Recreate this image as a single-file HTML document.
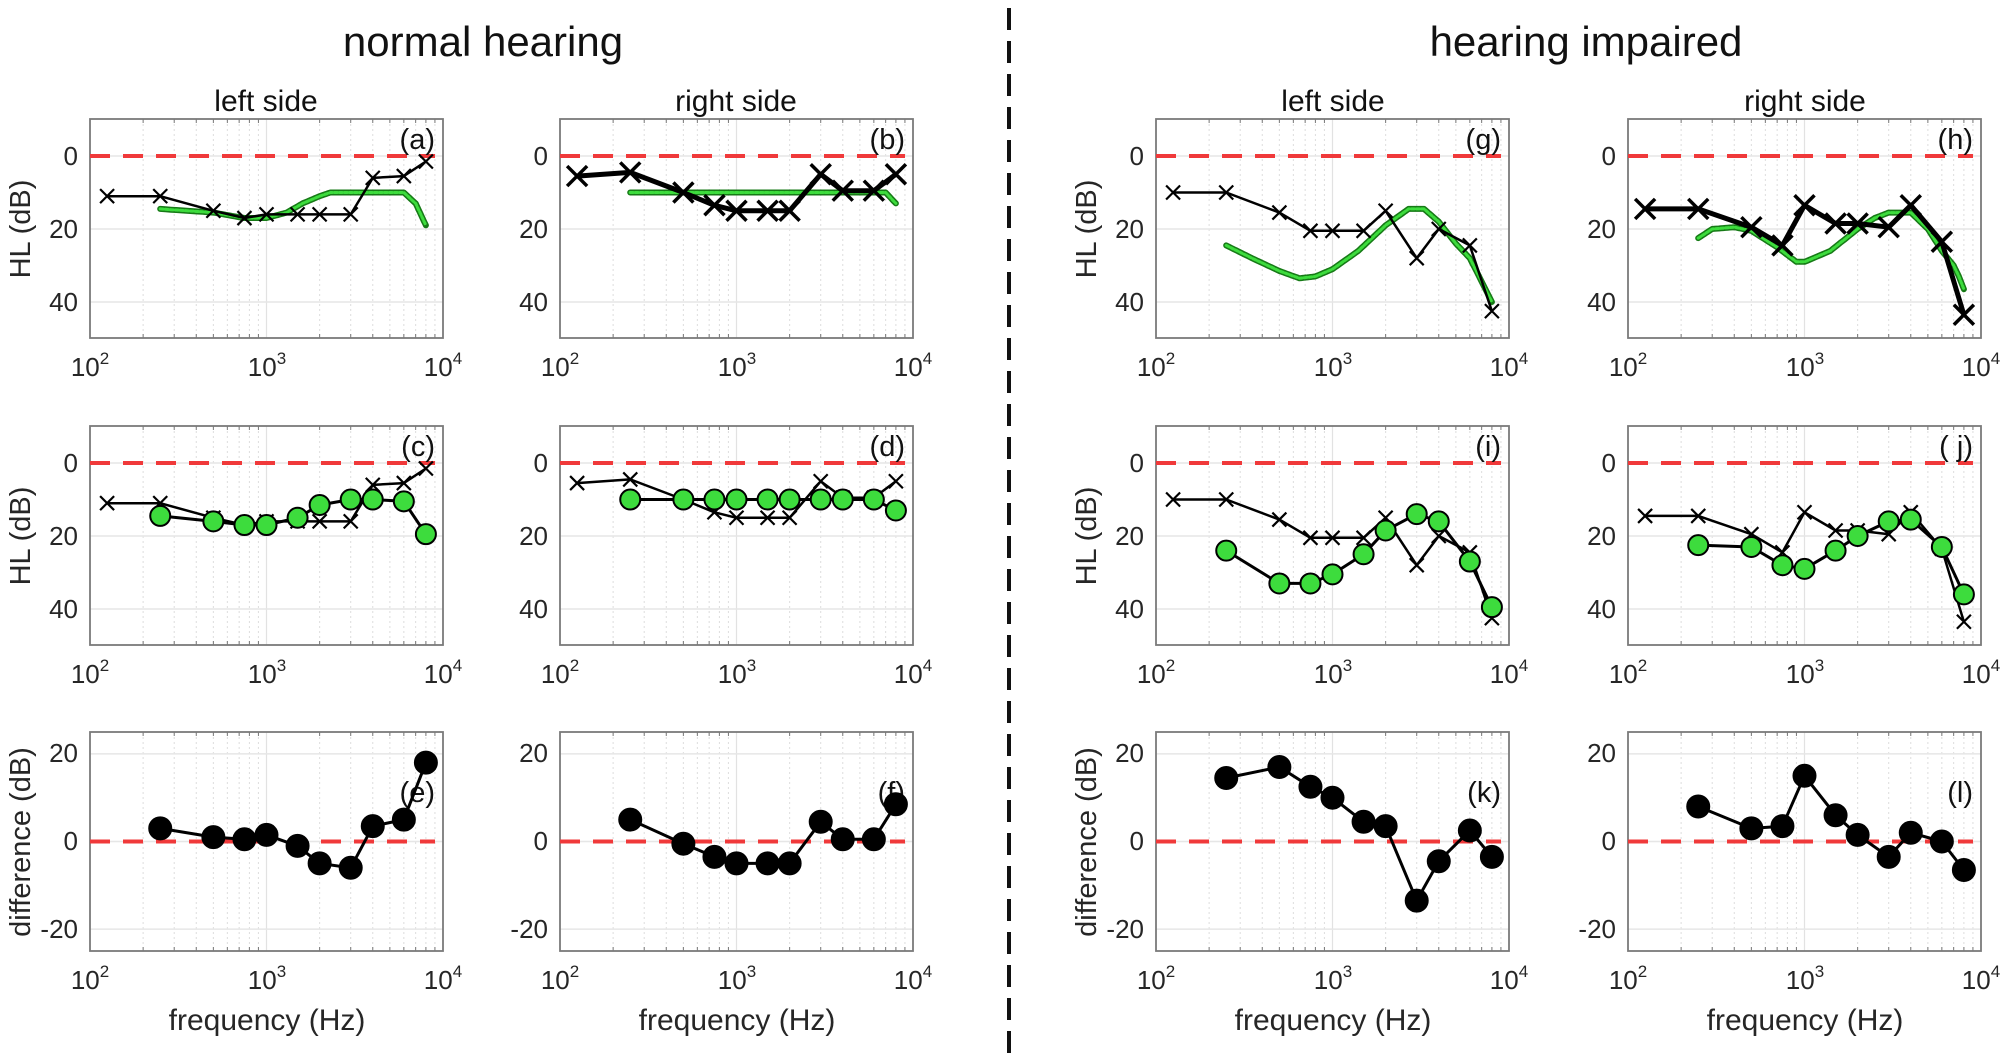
<!DOCTYPE html>
<html><head><meta charset="utf-8"><style>
html,body{margin:0;padding:0;background:#fff;}
svg{display:block;font-family:"Liberation Sans",Arial,sans-serif;}
.tk{font-size:26px;fill:#262626;}
.yt{text-anchor:end;}
.xt{text-anchor:middle;}
.sup{font-size:17px;}
.pl{font-size:29px;text-anchor:end;fill:#111;}
.al{font-size:29px;text-anchor:middle;fill:#262626;}
.fl{font-size:30px;text-anchor:middle;fill:#262626;}
.st{font-size:30px;text-anchor:middle;fill:#111;}
.mt{font-size:42px;text-anchor:middle;fill:#111;}
</style></head><body>
<svg id="s" width="2006" height="1060" viewBox="0 0 2006 1060" xmlns="http://www.w3.org/2000/svg">
<text class="mt" x="483" y="56">normal hearing</text>
<text class="mt" x="1586" y="56">hearing impaired</text>
<line x1="1009" y1="8" x2="1009" y2="1055" stroke="#111" stroke-width="4" stroke-dasharray="22,11"/>

<text class="st" x="266" y="111">left side</text>
<text class="st" x="736" y="111">right side</text>
<text class="st" x="1333" y="111">left side</text>
<text class="st" x="1805" y="111">right side</text>

<g id="pa" transform="translate(90,119)"><text class="pl" x="345" y="30">(a)</text>
<text class="tk yt" x="-12" y="46">0</text><text class="tk yt" x="-12" y="119">20</text><text class="tk yt" x="-12" y="192">40</text>
<text class="tk xt" x="0" y="257">10<tspan class="sup" dy="-12">2</tspan></text><text class="tk xt" x="177" y="257">10<tspan class="sup" dy="-12">3</tspan></text><text class="tk xt" x="353" y="257">10<tspan class="sup" dy="-12">4</tspan></text>
<text class="al" transform="translate(-60,110) rotate(-90)">HL (dB)</text></g>
<g id="pb" transform="translate(560,119)"><text class="pl" x="345" y="30">(b)</text>
<text class="tk yt" x="-12" y="46">0</text><text class="tk yt" x="-12" y="119">20</text><text class="tk yt" x="-12" y="192">40</text>
<text class="tk xt" x="0" y="257">10<tspan class="sup" dy="-12">2</tspan></text><text class="tk xt" x="177" y="257">10<tspan class="sup" dy="-12">3</tspan></text><text class="tk xt" x="353" y="257">10<tspan class="sup" dy="-12">4</tspan></text></g>
<g id="pg" transform="translate(1156,119)"><text class="pl" x="345" y="30">(g)</text>
<text class="tk yt" x="-12" y="46">0</text><text class="tk yt" x="-12" y="119">20</text><text class="tk yt" x="-12" y="192">40</text>
<text class="tk xt" x="0" y="257">10<tspan class="sup" dy="-12">2</tspan></text><text class="tk xt" x="177" y="257">10<tspan class="sup" dy="-12">3</tspan></text><text class="tk xt" x="353" y="257">10<tspan class="sup" dy="-12">4</tspan></text>
<text class="al" transform="translate(-60,110) rotate(-90)">HL (dB)</text></g>
<g id="ph" transform="translate(1628,119)"><text class="pl" x="345" y="30">(h)</text>
<text class="tk yt" x="-12" y="46">0</text><text class="tk yt" x="-12" y="119">20</text><text class="tk yt" x="-12" y="192">40</text>
<text class="tk xt" x="0" y="257">10<tspan class="sup" dy="-12">2</tspan></text><text class="tk xt" x="177" y="257">10<tspan class="sup" dy="-12">3</tspan></text><text class="tk xt" x="353" y="257">10<tspan class="sup" dy="-12">4</tspan></text></g>

<g id="pc" transform="translate(90,426)"><text class="pl" x="345" y="30">(c)</text>
<text class="tk yt" x="-12" y="46">0</text><text class="tk yt" x="-12" y="119">20</text><text class="tk yt" x="-12" y="192">40</text>
<text class="tk xt" x="0" y="257">10<tspan class="sup" dy="-12">2</tspan></text><text class="tk xt" x="177" y="257">10<tspan class="sup" dy="-12">3</tspan></text><text class="tk xt" x="353" y="257">10<tspan class="sup" dy="-12">4</tspan></text>
<text class="al" transform="translate(-60,110) rotate(-90)">HL (dB)</text></g>
<g id="pd" transform="translate(560,426)"><text class="pl" x="345" y="30">(d)</text>
<text class="tk yt" x="-12" y="46">0</text><text class="tk yt" x="-12" y="119">20</text><text class="tk yt" x="-12" y="192">40</text>
<text class="tk xt" x="0" y="257">10<tspan class="sup" dy="-12">2</tspan></text><text class="tk xt" x="177" y="257">10<tspan class="sup" dy="-12">3</tspan></text><text class="tk xt" x="353" y="257">10<tspan class="sup" dy="-12">4</tspan></text></g>
<g id="pi" transform="translate(1156,426)"><text class="pl" x="345" y="30">(i)</text>
<text class="tk yt" x="-12" y="46">0</text><text class="tk yt" x="-12" y="119">20</text><text class="tk yt" x="-12" y="192">40</text>
<text class="tk xt" x="0" y="257">10<tspan class="sup" dy="-12">2</tspan></text><text class="tk xt" x="177" y="257">10<tspan class="sup" dy="-12">3</tspan></text><text class="tk xt" x="353" y="257">10<tspan class="sup" dy="-12">4</tspan></text>
<text class="al" transform="translate(-60,110) rotate(-90)">HL (dB)</text></g>
<g id="pj" transform="translate(1628,426)"><text class="pl" x="345" y="30">( j)</text>
<text class="tk yt" x="-12" y="46">0</text><text class="tk yt" x="-12" y="119">20</text><text class="tk yt" x="-12" y="192">40</text>
<text class="tk xt" x="0" y="257">10<tspan class="sup" dy="-12">2</tspan></text><text class="tk xt" x="177" y="257">10<tspan class="sup" dy="-12">3</tspan></text><text class="tk xt" x="353" y="257">10<tspan class="sup" dy="-12">4</tspan></text></g>

<g id="pe" transform="translate(90,732)"><text class="pl" x="345" y="70">(e)</text>
<text class="tk yt" x="-12" y="30">20</text><text class="tk yt" x="-12" y="118">0</text><text class="tk yt" x="-12" y="206">-20</text>
<text class="tk xt" x="0" y="257">10<tspan class="sup" dy="-12">2</tspan></text><text class="tk xt" x="177" y="257">10<tspan class="sup" dy="-12">3</tspan></text><text class="tk xt" x="353" y="257">10<tspan class="sup" dy="-12">4</tspan></text>
<text class="al" transform="translate(-60,110) rotate(-90)">difference (dB)</text>
<text class="fl" x="177" y="298">frequency (Hz)</text></g>
<g id="pf" transform="translate(560,732)"><text class="pl" x="345" y="70">(f)</text>
<text class="tk yt" x="-12" y="30">20</text><text class="tk yt" x="-12" y="118">0</text><text class="tk yt" x="-12" y="206">-20</text>
<text class="tk xt" x="0" y="257">10<tspan class="sup" dy="-12">2</tspan></text><text class="tk xt" x="177" y="257">10<tspan class="sup" dy="-12">3</tspan></text><text class="tk xt" x="353" y="257">10<tspan class="sup" dy="-12">4</tspan></text>
<text class="fl" x="177" y="298">frequency (Hz)</text></g>
<g id="pk" transform="translate(1156,732)"><text class="pl" x="345" y="70">(k)</text>
<text class="tk yt" x="-12" y="30">20</text><text class="tk yt" x="-12" y="118">0</text><text class="tk yt" x="-12" y="206">-20</text>
<text class="tk xt" x="0" y="257">10<tspan class="sup" dy="-12">2</tspan></text><text class="tk xt" x="177" y="257">10<tspan class="sup" dy="-12">3</tspan></text><text class="tk xt" x="353" y="257">10<tspan class="sup" dy="-12">4</tspan></text>
<text class="al" transform="translate(-60,110) rotate(-90)">difference (dB)</text>
<text class="fl" x="177" y="298">frequency (Hz)</text></g>
<g id="pl" transform="translate(1628,732)"><text class="pl" x="345" y="70">(l)</text>
<text class="tk yt" x="-12" y="30">20</text><text class="tk yt" x="-12" y="118">0</text><text class="tk yt" x="-12" y="206">-20</text>
<text class="tk xt" x="0" y="257">10<tspan class="sup" dy="-12">2</tspan></text><text class="tk xt" x="177" y="257">10<tspan class="sup" dy="-12">3</tspan></text><text class="tk xt" x="353" y="257">10<tspan class="sup" dy="-12">4</tspan></text>
<text class="fl" x="177" y="298">frequency (Hz)</text></g>
</svg>
<script>
var NS="http://www.w3.org/2000/svg";
var W=353,H=219,F=[125,250,500,750,1000,1500,2000,3000,4000,6000,8000],F10=F.slice(1);
function X(f){return W*Math.log10(f/100)/2;}
function yHL(v){return 37+v*3.65;}
function yD(v){return 109.5-v*4.38;}
function el(g,t,a,first){var e=document.createElementNS(NS,t);for(var k in a)e.setAttribute(k,a[k]);if(first)g.insertBefore(e,g.firstChild);else g.appendChild(e);return e;}
function axes(g,diff){
  var bg=document.createElementNS(NS,"g");g.insertBefore(bg,g.firstChild);
  for(var d=0;d<2;d++)for(var m=2;m<10;m++){var x=X(100*Math.pow(10,d)*m);
    el(bg,"line",{x1:x,y1:0,x2:x,y2:H,stroke:"#ddd","stroke-width":1,"stroke-dasharray":"2,3"});
    el(bg,"line",{x1:x,y1:H,x2:x,y2:H-4,stroke:"#777","stroke-width":1});
    el(bg,"line",{x1:x,y1:0,x2:x,y2:4,stroke:"#777","stroke-width":1});}
  el(bg,"line",{x1:X(1000),y1:0,x2:X(1000),y2:H,stroke:"#e2e2e2","stroke-width":1.2});
  var ys=diff?[yD(20),yD(0),yD(-20)]:[yHL(0),yHL(20),yHL(40)];
  ys.forEach(function(y){el(bg,"line",{x1:0,y1:y,x2:W,y2:y,stroke:"#e6e6e6","stroke-width":1.5});});
  el(bg,"rect",{x:0,y:0,width:W,height:H,fill:"none",stroke:"#7a7a7a","stroke-width":1.8});
  var y0=diff?yD(0):yHL(0);
  el(bg,"line",{x1:0,y1:y0,x2:W-8,y2:y0,stroke:"#f0393a","stroke-width":4,"stroke-dasharray":"20,13"});
}
function pts(fs,vs,fy){return fs.map(function(f,i){return X(f).toFixed(1)+","+fy(vs[i]).toFixed(1);}).join(" ");}
function xline(g,vs,thick){
  var w=thick?5:2.5,s=thick?10:7;
  el(g,"polyline",{points:pts(F,vs,yHL),fill:"none",stroke:"#000","stroke-width":w,"stroke-linejoin":"round"});
  F.forEach(function(f,i){var x=X(f),y=yHL(vs[i]);
    el(g,"path",{d:"M"+(x-s)+","+(y-s)+"L"+(x+s)+","+(y+s)+"M"+(x-s)+","+(y+s)+"L"+(x+s)+","+(y-s),stroke:"#000","stroke-width":thick?3.5:2.2,fill:"none"});});
}
function green(g,fs,vs){
  var p=[];for(var i=0;i<fs.length-1;i++){var a=Math.log10(fs[i]),b=Math.log10(fs[i+1]);for(var t=0;t<1;t+=0.1){var lf=a+(b-a)*t;p.push([Math.pow(10,lf),vs[i]+(vs[i+1]-vs[i])*t]);}}
  p.push([fs[fs.length-1],vs[vs.length-1]]);
  var s=p.map(function(q){return X(q[0]).toFixed(1)+","+yHL(q[1]).toFixed(1);}).join(" ");
  el(g,"polyline",{points:s,fill:"none",stroke:"#167a16","stroke-width":6,"stroke-linejoin":"round","stroke-linecap":"round"});
  el(g,"polyline",{points:s,fill:"none",stroke:"#3ddc3d","stroke-width":3,"stroke-linejoin":"round","stroke-linecap":"round","stroke-dasharray":"3,2"});
}
function circ(g,vs,fy,col,r){
  el(g,"polyline",{points:pts(F10,vs,fy),fill:"none",stroke:"#000","stroke-width":3,"stroke-linejoin":"round"});
  F10.forEach(function(f,i){el(g,"circle",{cx:X(f),cy:fy(vs[i]),r:r,fill:col,stroke:"#000","stroke-width":2});});
}
function G(id){return document.getElementById(id);}
var xa=[11,11,15,17,16,16,16,16,6,5.5,1.5],xb=[5.5,4.5,10,13.5,15,15,15,5,9.5,9.5,5],
xg=[10,10,15.5,20.5,20.5,20.5,15,28,20,24.5,42.5],xh=[14.5,14.5,19.5,24.5,13.5,18.5,18.5,19.5,13.5,23.5,43.5];
["pa","pb","pg","ph","pc","pd","pi","pj"].forEach(function(id){axes(G(id),false);});
["pe","pf","pk","pl"].forEach(function(id){axes(G(id),true);});
green(G("pa"),[250,500,750,1000,1300,1600,2000,2300,6000,7000,8000],[14.5,15.5,17,17,15.5,13,11,10,10,13,19]);xline(G("pa"),xa,false);
green(G("pb"),[250,7000,8000],[10,10,13]);xline(G("pb"),xb,true);
green(G("pg"),[250,350,500,650,800,1000,1400,2000,2700,3300,4000,5000,6000,8000],[24.5,28,31.5,33.5,33,31,26,19,14.5,14.5,18,24,28,40]);xline(G("pg"),xg,false);
green(G("ph"),[250,300,400,500,700,900,1000,1400,2000,2500,3000,4000,5000,6000,7000,7500,8000],[22.5,20,19.5,20.5,25,29,29,26,20,17,15.5,15.5,20,26,30,33,36.5]);xline(G("ph"),xh,true);
xline(G("pc"),xa,false);circ(G("pc"),[14.5,16,17,17,15,11.5,10,10,10.5,19.5],yHL,"#3ddc3d",10);
xline(G("pd"),xb,false);circ(G("pd"),[10,10,10,10,10,10,10,10,10,13],yHL,"#3ddc3d",10);
xline(G("pi"),xg,false);circ(G("pi"),[24,33,33,30.5,25,18.5,14,16,27,39.5],yHL,"#3ddc3d",10);
xline(G("pj"),xh,false);circ(G("pj"),[22.5,23,28,29,24,20,16,15.5,23,36],yHL,"#3ddc3d",10);
circ(G("pe"),[3,1,0.5,1.5,-1,-5,-6,3.5,5,18],yD,"#000",11);
circ(G("pf"),[5,-0.5,-3.5,-5,-5,-5,4.5,0.5,0.5,8.5],yD,"#000",11);
circ(G("pk"),[14.5,17,12.5,10,4.5,3.5,-13.5,-4.5,2.5,-3.5],yD,"#000",11);
circ(G("pl"),[8,3,3.5,15,6,1.5,-3.5,2,0,-6.5],yD,"#000",11);
</script>
</body></html>
